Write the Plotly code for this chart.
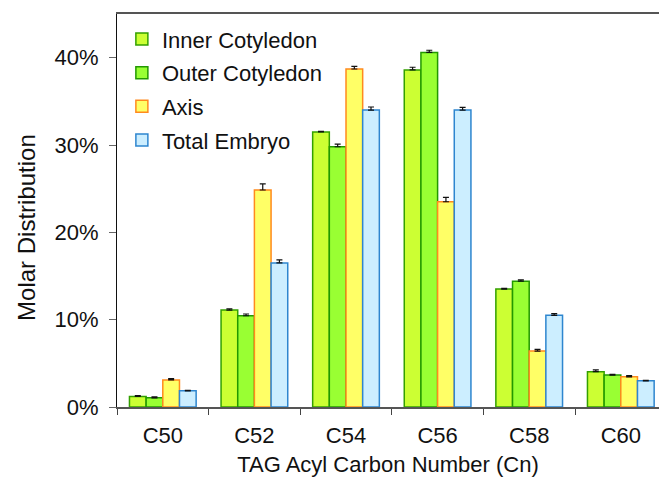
import plotly.graph_objects as go

categories = ["C50", "C52", "C54", "C56", "C58", "C60"]
series_names = ["Inner Cotyledon", "Outer Cotyledon", "Axis", "Total Embryo"]
inner = [1.2, 11.1, 31.5, 38.6, 13.5, 4.05]
outer = [1.05, 10.45, 29.8, 40.6, 14.4, 3.65]
axis_ = [3.1, 24.85, 38.7, 23.5, 6.4, 3.45]
total = [1.85, 16.5, 34.0, 34.0, 10.5, 3.0]
inner_err = [0.1, 0.15, 0.05, 0.3, 0.1, 0.2]
outer_err = [0.1, 0.2, 0.3, 0.25, 0.15, 0.1]
axis_err = [0.15, 0.7, 0.3, 0.5, 0.2, 0.15]
total_err = [0.05, 0.35, 0.35, 0.3, 0.2, 0.05]
y_ticks = [0, 10, 20, 30, 40]
y_tick_labels = ["0%", "10%", "20%", "30%", "40%"]

values = [inner, outer, axis_, total]
errors = [inner_err, outer_err, axis_err, total_err]
fills = ["#ccff33", "#99ff33", "#ffff66", "#cceeff"]
lines = ["#33a000", "#229900", "#ff8a1e", "#2e86cf"]

FONT = "Liberation Sans, Arial, sans-serif"

fig = go.Figure()
for name, v, e, fc, lc in zip(series_names, values, errors, fills, lines):
    fig.add_trace(go.Bar(
        name=name, x=categories, y=v, legendgroup=name,
        marker=dict(color=fc, line=dict(color=lc, width=1.5)),
        error_y=dict(type="data", array=e, arrayminus=[0] * len(e), symmetric=False,
                     color="#111111", thickness=1.2, width=3),
    ))

fig.update_layout(
    width=659, height=479,
    margin=dict(l=117, r=0, t=14, b=72, pad=0),
    paper_bgcolor="white", plot_bgcolor="white",
    barmode="group", bargap=0.272, bargroupgap=0,
    font=dict(family=FONT, size=22, color="#111111"),
    showlegend=True,
    legend=dict(x=0.009, y=0.989, xanchor="left", yanchor="top",
                bgcolor="rgba(0,0,0,0)", font=dict(size=22, family=FONT),
                itemwidth=30, traceorder="grouped", tracegroupgap=2),
    xaxis=dict(
        range=[-0.5, 5.417], type="category", tickson="boundaries",
        ticks="outside", ticklen=6, tickcolor="#444444", tickwidth=1,
        showline=True, linecolor="#555555", linewidth=1.5, mirror=True,
        showgrid=False, tickfont=dict(size=22), ticklabelstandoff=8,
        title=dict(text="TAG Acyl Carbon Number (Cn)", font=dict(size=22), standoff=9),
    ),
    yaxis=dict(
        range=[0, 45], tickmode="array", tickvals=y_ticks, ticktext=y_tick_labels,
        ticks="outside", ticklen=7, tickcolor="#666666", tickwidth=1,
        showline=True, linecolor="#111111", linewidth=1.2,
        showgrid=False, zeroline=False, tickfont=dict(size=22),
        ticklabelstandoff=6,
    ),
    annotations=[dict(
        text="Molar Distribution", textangle=-90, showarrow=False,
        xref="paper", yref="paper", x=-0.168, y=0.458,
        xanchor="center", yanchor="middle",
        font=dict(size=24, family=FONT, color="#111111"),
    )],
)

fig.write_html("out.html")
